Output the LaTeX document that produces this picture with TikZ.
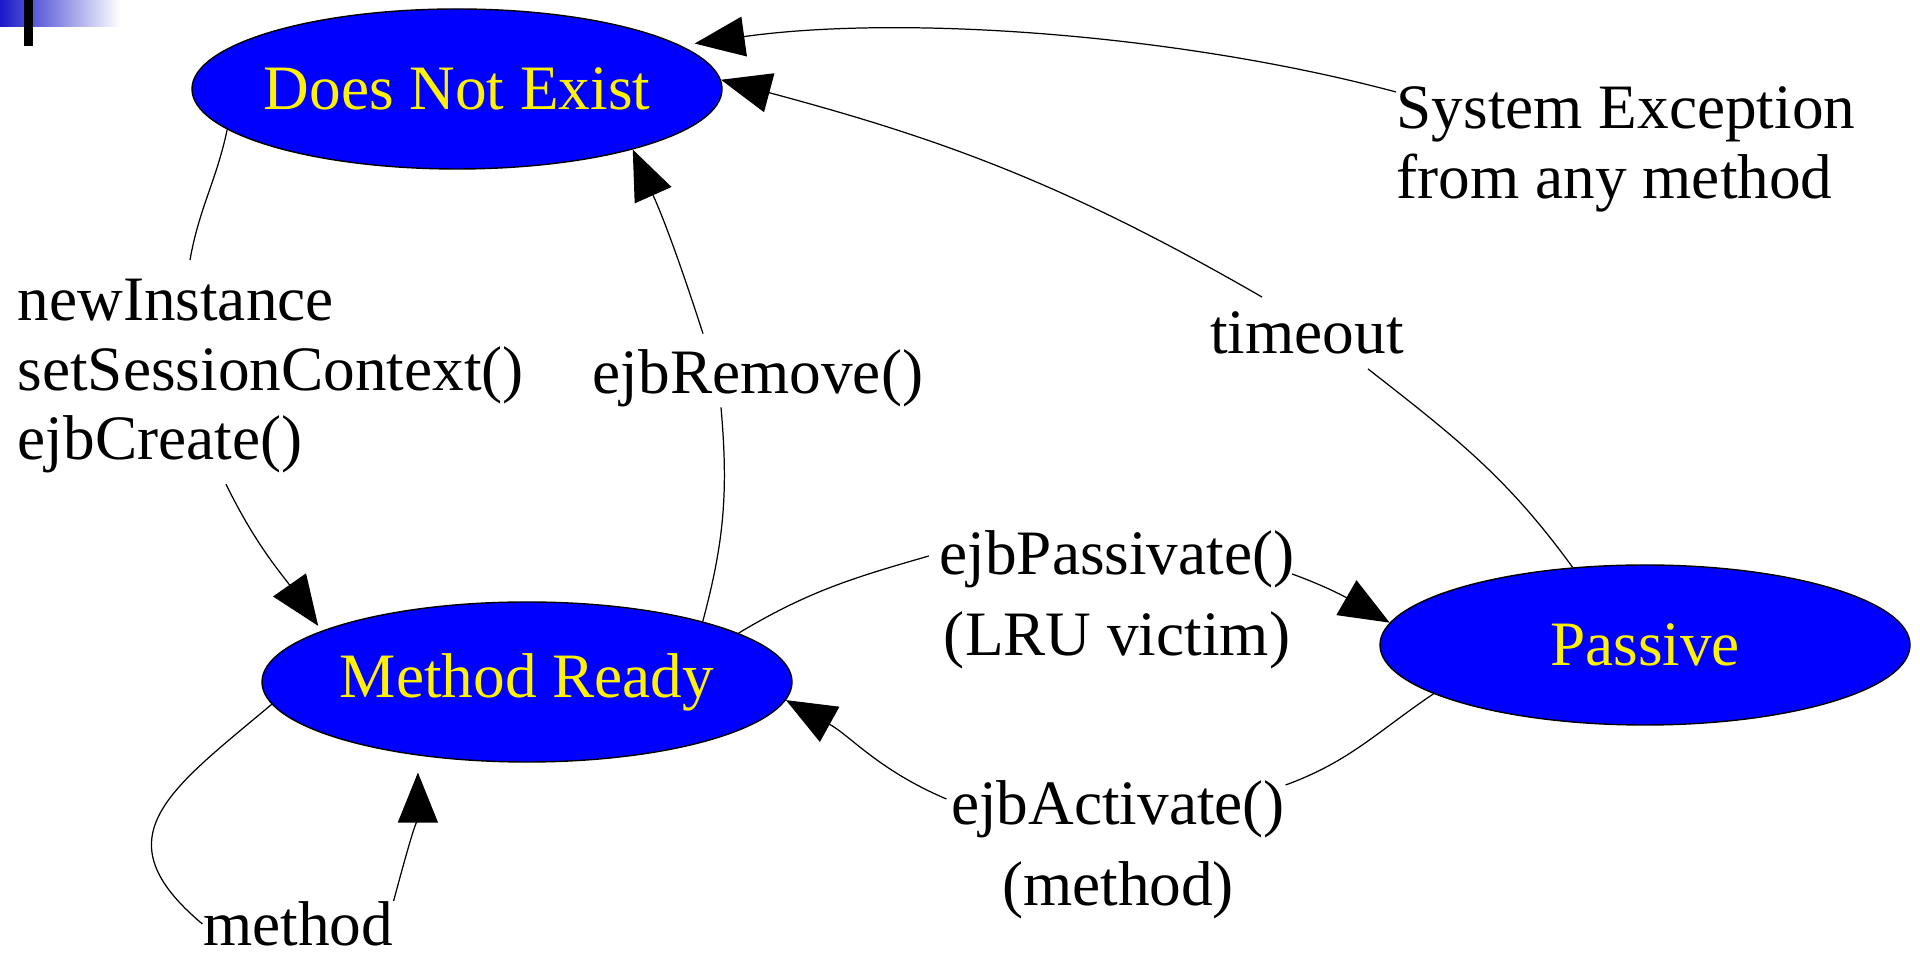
\documentclass[tikz,border=0pt]{standalone}
\usepackage{fontspec}
\setmainfont{Liberation Serif}
\usetikzlibrary{positioning, shapes, arrows.meta, calc}

\definecolor{barblue}{RGB}{25,25,200}

\begin{document}
\begin{tikzpicture}[
state/.style={ellipse, draw=black, fill=blue, text=yellow, line width=0.4pt, minimum width=5.3cm, minimum height=1.6cm, inner xsep=-0.15cm, inner ysep=0pt, font=\fontsize{18}{20}\selectfont},
lbl/.style={inner sep=0pt, font=\fontsize{18}{19.9}\selectfont},
lbltwo/.style={lbl, align=center, font=\fontsize{18}{23}\selectfont},
wire/.style={line width=0.35pt},
trans/.style={wire, -{Triangle[length=5mm, width=4mm]}},
]
\useasboundingbox (0,0) rectangle (19.2,-9.54);

% corner mark
\shade [left color=barblue, right color=white] (0,0) rectangle (1.2,-0.27);
\fill [black] (0.24,0) rectangle (0.33,-0.46);

%Nodes
\node [state] (dne) at (4.57,-0.89) {Does Not Exist};
\node [state, xshift=0.70cm, yshift=-5.93cm] (ready) at (dne) {Method Ready};
\node [state, xshift=11.18cm, yshift=0.37cm] (passive) at (ready) {Passive};

\node [lbl, align=left, anchor=north west] (ninst) at (0.17,-2.78) {newInstance\\setSessionContext()\\ejbCreate()};
\node [lbl] (rem) at (7.58,-3.78) {ejbRemove()};
\node [lbl] (tmo) at (13.07,-3.33) {timeout};
\node [lbl, align=left, anchor=north west] (sysex) at (13.96,-0.86) {System Exception\\from any method};
\node [lbltwo, anchor=north] (pas) at (11.17,-5.30) {ejbPassivate()\\(LRU victim)};
\node [lbltwo, anchor=north] (act) at (11.18,-7.80) {ejbActivate()\\(method)};
\node [lbl] (mth) at (2.98,-9.24) {method};

% Paths
\draw [wire] (dne.190) to [out=258, in=80] ([shift={(1.73,0.18)}]ninst.north west);
\draw [trans, shorten >=0.06cm] ([shift={(2.09,-0.1)}]ninst.south west) to [out=-64, in=125] (ready.166);

\draw [wire] (ready.19) to [out=75, in=-85] ([xshift=-0.37cm]rem.south);
\draw [trans] ([shift={(-0.55,0.15)}]rem.north) to [out=108, in=-66] (dne.-19);

\draw [wire] (ready.13) to [out=31, in=196] ([shift={(-0.1,-0.26)}]pas.north west);
\draw [trans] ([shift={(-0.03,-0.44)}]pas.north east) to [out=-20, in=150] (passive.175);

\draw [wire] (passive.193) to [out=214, in=20] ([yshift=-0.05cm]act.north east);
\draw [trans] ([shift={(-0.04,-0.19)}]act.north west) to [out=157, in=-29] (ready.-4);

\draw [wire] (passive.133) to [out=126, in=-38] ([shift={(0.61,-0.14)}]tmo.south);
\draw [trans] ([shift={(-0.45,0.14)}]tmo.north) to [out=150, in=-15] (dne.2);

\draw [trans, shorten >=0.14cm] ([yshift=-0.06cm]sysex.north west) to [out=165, in=8, looseness=0.8] (dne.11);

\draw [wire] (ready.185) to [out=220, in=140, looseness=1.5] (mth.west);
\draw [trans, shorten >=0.17cm] (mth.north east) to [out=75, in=-90] (ready.214);
\end{tikzpicture}
\end{document}
